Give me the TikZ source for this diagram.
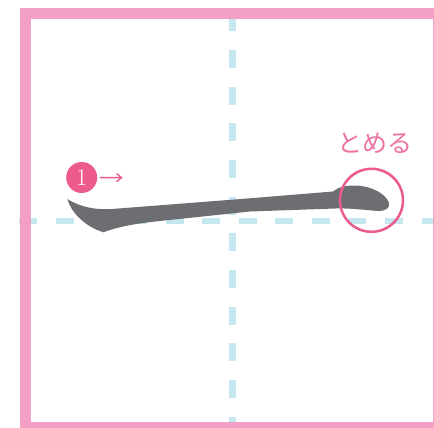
\documentclass[tikz,border=0pt]{standalone}
\usepackage{fontspec}
\newfontfamily\jpfont{Noto Sans CJK JP}
\usetikzlibrary{arrows.meta, positioning}
\definecolor{framepink}{HTML}{F4A0C6}
\definecolor{guidecyan}{HTML}{C5E8F0}
\definecolor{inkgrey}{HTML}{6D6E71}
\definecolor{markpink}{HTML}{EC5A8E}
\definecolor{textpink}{HTML}{EE72A2}

\begin{document}
\begin{tikzpicture}[x=1pt, y=-1pt, >={Straight Barb[length=5pt, width=8pt]}]

% Page
\clip (0,0) rectangle (434,428);
\fill[white] (0,0) rectangle (434,428);

% Guide lines
\draw[guidecyan, line width=7pt, dash pattern=on 18pt off 18.67pt] (232.7,13.3) -- (232.7,440);
\draw[guidecyan, line width=6pt, dash pattern=on 18pt off 18.56pt] (19.4,221) -- (440,221);

% Frame
\draw[framepink, line width=11pt] (25.5,13.8) rectangle (438.5,427.2);

% Stroke
\fill[inkgrey] (67.3,199) .. controls (80,207) and (95,210) .. (112,209)
  -- (250,198.3) -- (333,191.5)
  .. controls (338,187) and (345,185.5) .. (355,185.5)
  .. controls (372,186) and (386,194) .. (389,203)
  .. controls (390,208) and (386,211) .. (378,211)
  .. controls (365,210) and (350,208) .. (335,208.5)
  -- (250,211.5) -- (160,221)
  .. controls (130,224) and (115,228) .. (103.3,232.3)
  .. controls (84,226) and (71,212) .. (67.3,199) -- cycle;

% Stroke order
\node[circle, fill=markpink, text=white, minimum size=31pt, inner sep=0pt,
  font=\fontsize{24}{24}\selectfont] (num) at (81.7,177.5) {1};
\coordinate (dirend) at (122.7,177.7);
\draw[->, markpink, line width=1.4pt, shorten <=2.5pt] (num) -- (dirend);

% Ending mark
\node[circle, draw=markpink, line width=2.5pt, minimum size=63pt, inner sep=0pt] (stopmark) at (371.5,200.3) {};
\node[font=\jpfont\fontsize{25}{25}\selectfont, text=textpink] (tomeru) at (375,143) {とめる};

\end{tikzpicture}
\end{document}
